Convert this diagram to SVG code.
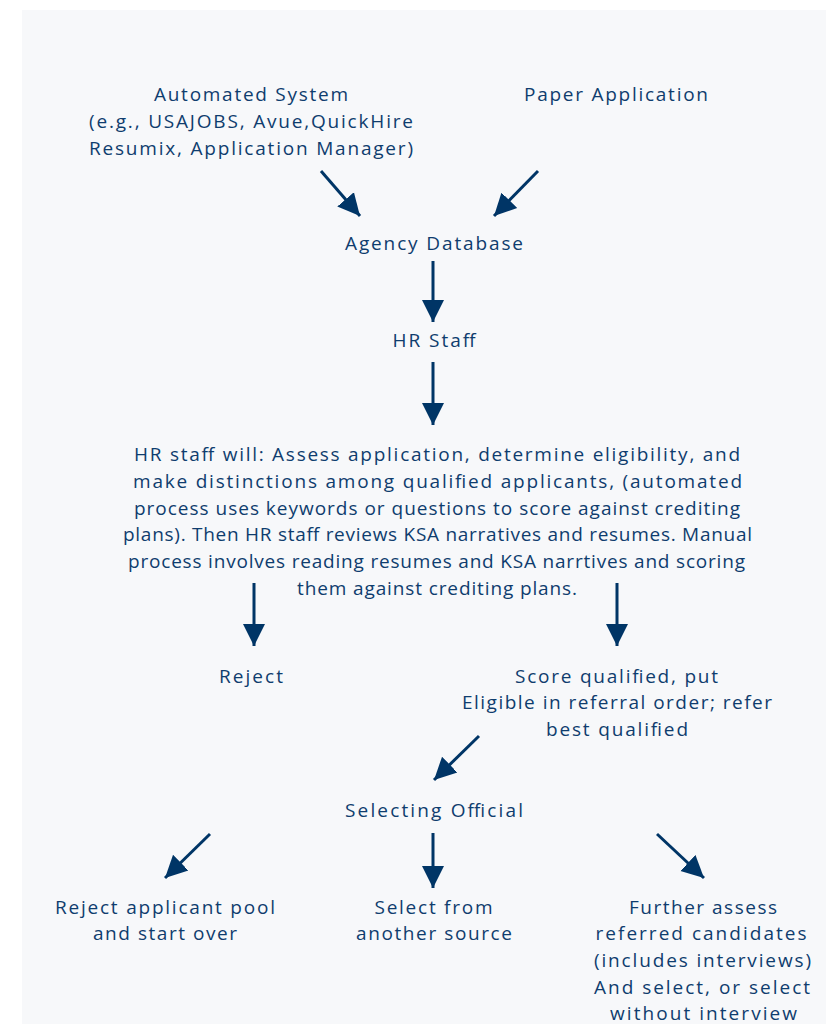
<svg xmlns="http://www.w3.org/2000/svg" width="826" height="1024" viewBox="0 0 826 1024">
<defs>
<style>
text{font-family:"Open Sans","Noto Sans",sans-serif;font-size:19px;fill:#0f3d6e;text-anchor:middle}
.c line{stroke:#003566;stroke-width:3}
</style>
<marker id="ah" markerUnits="userSpaceOnUse" markerWidth="24" markerHeight="24" viewBox="0 0 24 24" refX="22" refY="12" orient="auto">
<path d="M0,1 L22,12 L0,23 Z" fill="#003566"/>
</marker>
</defs>
<rect width="826" height="1024" fill="#ffffff"/>
<rect x="22" y="10" width="804" height="1014" fill="#f7f8fa"/>
<g id="automated">
<text x="251" y="101" textLength="194" lengthAdjust="spacing">Automated System</text>
<text x="251" y="128" textLength="324" lengthAdjust="spacing">(e.g., USAJOBS, Avue,QuickHire</text>
<text x="251" y="155" textLength="324" lengthAdjust="spacing">Resumix, Application Manager)</text>
</g>
<g id="paper"><text x="616" y="101" textLength="184" lengthAdjust="spacing">Paper Application</text></g>
<g id="database"><text x="434" y="250" textLength="178" lengthAdjust="spacing">Agency Database</text></g>
<g id="hrstaff"><text x="434" y="347" textLength="83" lengthAdjust="spacing">HR Staff</text></g>
<g id="assess">
<text x="437" y="461" textLength="606" lengthAdjust="spacing">HR staff will: Assess application, determine eligibility, and</text>
<text x="437.5" y="488" textLength="609" lengthAdjust="spacing">make distinctions among qualified applicants, (automated</text>
<text x="437" y="515" textLength="606" lengthAdjust="spacing">process uses keywords or questions to score against crediting</text>
<text x="437.5" y="541" textLength="629" lengthAdjust="spacing">plans). Then HR staff reviews KSA narratives and resumes. Manual</text>
<text x="436.5" y="568" textLength="617" lengthAdjust="spacing">process involves reading resumes and KSA narrtives and scoring</text>
<text x="437" y="595" textLength="280" lengthAdjust="spacing">them against crediting plans.</text>
</g>
<g id="reject"><text x="251" y="683" textLength="64" lengthAdjust="spacing">Reject</text></g>
<g id="score">
<text x="616.5" y="683" textLength="203" lengthAdjust="spacing">Score qualified, put</text>
<text x="617" y="709" textLength="310" lengthAdjust="spacing">Eligible in referral order; refer</text>
<text x="617" y="736" textLength="142" lengthAdjust="spacing">best qualified</text>
</g>
<g id="selecting"><text x="434" y="817" textLength="178" lengthAdjust="spacing">Selecting Official</text></g>
<g id="rejectpool">
<text x="165" y="914" textLength="220" lengthAdjust="spacing">Reject applicant pool</text>
<text x="165" y="940" textLength="144" lengthAdjust="spacing">and start over</text>
</g>
<g id="another">
<text x="433.5" y="914" textLength="118" lengthAdjust="spacing">Select from</text>
<text x="434" y="940" textLength="156" lengthAdjust="spacing">another source</text>
</g>
<g id="further">
<text x="703" y="914" textLength="148" lengthAdjust="spacing">Further assess</text>
<text x="701" y="940" textLength="211" lengthAdjust="spacing">referred candidates</text>
<text x="702.5" y="967" textLength="217" lengthAdjust="spacing">(includes interviews)</text>
<text x="702" y="994" textLength="216" lengthAdjust="spacing">And select, or select</text>
<text x="703.5" y="1020" textLength="187" lengthAdjust="spacing">without interview</text>
</g>
<g id="connectors" class="c">
<line x1="321" y1="171" x2="360" y2="216" marker-end="url(#ah)"/>
<line x1="538" y1="171" x2="494" y2="216" marker-end="url(#ah)"/>
<line x1="433" y1="261" x2="433" y2="322" marker-end="url(#ah)"/>
<line x1="433" y1="362" x2="433" y2="425" marker-end="url(#ah)"/>
<line x1="254" y1="583" x2="254" y2="646" marker-end="url(#ah)"/>
<line x1="617" y1="583" x2="617" y2="646" marker-end="url(#ah)"/>
<line x1="479" y1="736" x2="434" y2="780" marker-end="url(#ah)"/>
<line x1="210" y1="834" x2="165" y2="878" marker-end="url(#ah)"/>
<line x1="433" y1="833" x2="433" y2="888" marker-end="url(#ah)"/>
<line x1="657" y1="834" x2="704" y2="878" marker-end="url(#ah)"/>
</g>
</svg>
